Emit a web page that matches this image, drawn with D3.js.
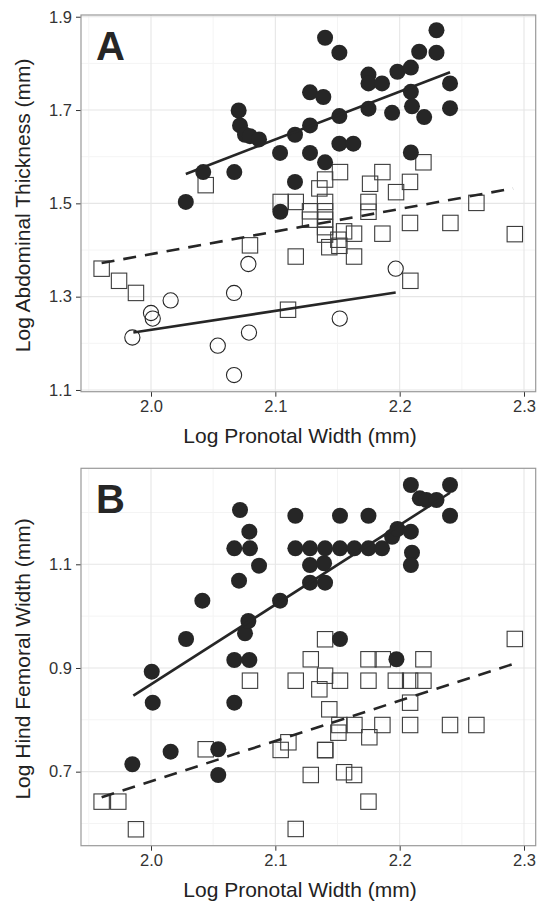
<!DOCTYPE html>
<html>
<head>
<meta charset="utf-8">
<script src="https://cdn.jsdelivr.net/npm/d3@7"></script>
<style>
  body { margin: 0; background: #fff; }
  svg { font-family: "Liberation Sans", Arial, sans-serif; }
</style>
</head>
<body>
<div id="chart"></div>
<script>
// ticks
var xTicks = [2.0, 2.1, 2.2, 2.3];
var xMinor = [1.95, 2.05, 2.15, 2.25];
var aYTicks = [1.1, 1.3, 1.5, 1.7, 1.9];
var aYMinor = [1.2, 1.4, 1.6, 1.8];
var bYTicks = [0.7, 0.9, 1.1];
var bYMinor = [0.6, 0.8, 1.0, 1.2];

// panel A: abdominal thickness
var aFilled = [
  [2.028, 1.503], [2.042, 1.567], [2.067, 1.567], [2.0705, 1.699], [2.0716, 1.667],
  [2.0756, 1.647], [2.0796, 1.644], [2.0869, 1.637], [2.1038, 1.608], [2.104, 1.482],
  [2.1158, 1.647], [2.1158, 1.546], [2.1279, 1.667], [2.1279, 1.738], [2.1279, 1.608],
  [2.1386, 1.728], [2.14, 1.855], [2.14, 1.588], [2.1515, 1.823], [2.1515, 1.628],
  [2.1515, 1.687], [2.1627, 1.628], [2.1749, 1.776], [2.1749, 1.757], [2.1749, 1.703],
  [2.1858, 1.757], [2.1939, 1.694], [2.1982, 1.782], [2.209, 1.791], [2.209, 1.739],
  [2.2099, 1.708], [2.209, 1.609], [2.2157, 1.825], [2.2197, 1.685], [2.2296, 1.871],
  [2.2296, 1.823], [2.2405, 1.757], [2.2405, 1.704]
];
var aSquares = [
  [1.9603, 1.360], [1.9743, 1.334], [1.9879, 1.308], [2.044, 1.539], [2.0796, 1.410],
  [2.1043, 1.503], [2.1102, 1.272], [2.1164, 1.503], [2.1164, 1.386], [2.1279, 1.483],
  [2.1279, 1.465], [2.1354, 1.532], [2.14, 1.551], [2.14, 1.503], [2.14, 1.483],
  [2.14, 1.465], [2.14, 1.449], [2.14, 1.433], [2.1434, 1.406], [2.1507, 1.422],
  [2.1515, 1.409], [2.152, 1.567], [2.1553, 1.440], [2.1633, 1.435], [2.1633, 1.386],
  [2.1749, 1.503], [2.1749, 1.482], [2.1762, 1.542], [2.1861, 1.567], [2.1861, 1.435],
  [2.1971, 1.524], [2.2083, 1.546], [2.2083, 1.458], [2.2086, 1.334], [2.2191, 1.588],
  [2.2408, 1.458], [2.2617, 1.501], [2.2926, 1.434]
];
var aOpen = [
  [1.985, 1.2125], [2.0, 1.265], [2.0014, 1.253], [2.0158, 1.292], [2.0668, 1.308],
  [2.0783, 1.370], [2.0537, 1.195], [2.0788, 1.223], [2.0668, 1.132], [2.1518, 1.253],
  [2.1968, 1.360]
];
var aFilledFit = [[2.028, 1.563], [2.2405, 1.781]];
var aSquareFit = [[1.9603, 1.372], [2.2912, 1.532]];
var aOpenFit = [[1.9858, 1.223], [2.1968, 1.309]];

// panel B: hind femoral width
var bFilled = [
  [1.985, 0.7143], [2.0006, 0.8929], [2.0014, 0.8331], [2.0158, 0.7386], [2.0282, 0.9559],
  [2.0413, 1.0298], [2.0541, 0.7432], [2.0541, 0.6936], [2.067, 0.8331], [2.067, 0.9154],
  [2.067, 1.1309], [2.0708, 1.0684], [2.0716, 1.2047], [2.0756, 0.9669], [2.0783, 0.9906],
  [2.0791, 0.9154], [2.0791, 1.1629], [2.0796, 1.1309], [2.0869, 1.0973], [2.1038, 1.0298],
  [2.1161, 1.1937], [2.1161, 1.1309], [2.1279, 1.1309], [2.1279, 1.0986], [2.1279, 1.0645],
  [2.1392, 1.102], [2.14, 1.1309], [2.14, 1.0645], [2.152, 1.1937], [2.152, 1.1309],
  [2.152, 0.9559], [2.1636, 1.1309], [2.1749, 1.1937], [2.1749, 1.1309], [2.1858, 1.1309],
  [2.1939, 1.1532], [2.1974, 0.9168], [2.1982, 1.1681], [2.209, 1.1629], [2.209, 1.253],
  [2.2099, 1.1224], [2.209, 1.0986], [2.2162, 1.2273], [2.2215, 1.224], [2.2296, 1.224],
  [2.2405, 1.253], [2.2405, 1.1937]
];
var bSquares = [
  [1.9603, 0.6422], [1.9737, 0.6422], [1.9879, 0.5889], [2.044, 0.7432], [2.0796, 0.8755],
  [2.1043, 0.7419], [2.1105, 0.7567], [2.1164, 0.8755], [2.1164, 0.5895], [2.1285, 0.9168],
  [2.1285, 0.6936], [2.1354, 0.8589], [2.14, 0.9554], [2.14, 0.8851], [2.14, 0.7419],
  [2.1402, 0.7415], [2.1434, 0.8203], [2.1507, 0.7752], [2.1515, 0.790], [2.152, 0.8755],
  [2.1553, 0.6989], [2.1633, 0.6936], [2.1636, 0.790], [2.1749, 0.9168], [2.1749, 0.8755],
  [2.1749, 0.6422], [2.1756, 0.7664], [2.1861, 0.790], [2.1864, 0.9168], [2.1969, 0.8755],
  [2.2084, 0.8755], [2.2084, 0.8331], [2.2084, 0.790], [2.2191, 0.9168], [2.2191, 0.8755],
  [2.2405, 0.790], [2.2617, 0.790], [2.2926, 0.956]
];
var bFilledFit = [[1.9858, 0.8466], [2.2405, 1.238]];
var bSquareFit = [[1.9603, 0.6506], [2.2912, 0.9077]];

var W = 538, H = 906;
var svg = d3.select("#chart").append("svg")
  .attr("width", W).attr("height", H);

var ink = "#262626";

function drawPanel(cfg) {
  var x = d3.scaleLinear().domain([1.9437, 2.3094]).range([81, 535.7]);
  var y = d3.scaleLinear().domain(cfg.yDomain).range([cfg.bottom, cfg.top]);
  var g = svg.append("g");

  // grid
  g.selectAll(".xminor").data(xMinor).enter().append("line")
    .attr("x1", d => x(d)).attr("x2", d => x(d))
    .attr("y1", cfg.top).attr("y2", cfg.bottom)
    .attr("stroke", "#f4f4f4").attr("stroke-width", 1);
  g.selectAll(".yminor").data(cfg.yMinor).enter().append("line")
    .attr("x1", 81).attr("x2", 535.7)
    .attr("y1", d => y(d)).attr("y2", d => y(d))
    .attr("stroke", "#f4f4f4").attr("stroke-width", 1);
  g.selectAll(".xmajor").data(xTicks).enter().append("line")
    .attr("x1", d => x(d)).attr("x2", d => x(d))
    .attr("y1", cfg.top).attr("y2", cfg.bottom)
    .attr("stroke", "#e6e6e6").attr("stroke-width", 1.1);
  g.selectAll(".ymajor").data(cfg.yTicks).enter().append("line")
    .attr("x1", 81).attr("x2", 535.7)
    .attr("y1", d => y(d)).attr("y2", d => y(d))
    .attr("stroke", "#e6e6e6").attr("stroke-width", 1.1);

  // axes
  var xAxis = d3.axisBottom(x).tickValues(xTicks).tickFormat(d3.format(".1f"))
    .tickSize(5).tickPadding(4);
  var yAxis = d3.axisLeft(y).tickValues(cfg.yTicks).tickFormat(d3.format(".1f"))
    .tickSize(5).tickPadding(4);
  var gx = g.append("g").attr("transform", "translate(0," + cfg.bottom + ")").call(xAxis);
  var gy = g.append("g").attr("transform", "translate(81,0)").call(yAxis);
  [gx, gy].forEach(function (a) {
    a.select(".domain").remove();
    a.selectAll(".tick line").attr("stroke", "#333").attr("stroke-width", 1);
    a.selectAll(".tick text").attr("fill", "#333")
      .style("font-size", "16.5px").style("font-family", "Liberation Sans, Arial, sans-serif");
  });

  // panel border
  g.append("rect")
    .attr("x", 81).attr("y", cfg.top)
    .attr("width", 535.7 - 81).attr("height", cfg.bottom - cfg.top)
    .attr("fill", "none").attr("stroke", "#999").attr("stroke-width", 1.2);

  // squares
  g.selectAll(".sq").data(cfg.squares).enter().append("rect")
    .attr("x", d => x(d[0]) - 7.7).attr("y", d => y(d[1]) - 7.7)
    .attr("width", 15.4).attr("height", 15.4)
    .attr("fill", "none").attr("stroke", "#3c3c3c").attr("stroke-width", 1.1);

  if (cfg.open) {
    g.selectAll(".oc").data(cfg.open).enter().append("circle")
      .attr("cx", d => x(d[0])).attr("cy", d => y(d[1])).attr("r", 7.6)
      .attr("fill", "none").attr("stroke", ink).attr("stroke-width", 1.1);
  }

  g.selectAll(".fc").data(cfg.filled).enter().append("circle")
    .attr("cx", d => x(d[0])).attr("cy", d => y(d[1])).attr("r", 8)
    .attr("fill", ink);

  var line = d3.line().x(d => x(d[0])).y(d => y(d[1]));
  cfg.fits.forEach(function (f) {
    g.append("path").datum(f.pts).attr("d", line)
      .attr("fill", "none").attr("stroke", ink).attr("stroke-width", 2.6)
      .attr("stroke-dasharray", f.dash ? "13,9" : null);
  });

  // panel letter
  g.append("text").attr("x", 96).attr("y", cfg.top + 45)
    .style("font-size", "40px").style("font-weight", "bold")
    .attr("fill", ink).text(cfg.letter);

  // axis titles
  g.append("text").attr("x", 300).attr("y", cfg.bottom + 51)
    .attr("text-anchor", "middle").style("font-size", "21px").attr("fill", "#222")
    .text("Log Pronotal Width (mm)");
  g.append("text")
    .attr("transform", "translate(30," + ((cfg.top + cfg.bottom) / 2 + 2) + ") rotate(-90)")
    .attr("text-anchor", "middle").style("font-size", "21px").attr("fill", "#222")
    .text(cfg.yTitle);
}

drawPanel({
  letter: "A", top: 15, bottom: 391.7, yDomain: [1.0963, 1.9037],
  yTicks: aYTicks, yMinor: aYMinor,
  filled: aFilled, squares: aSquares, open: aOpen,
  fits: [{pts: aFilledFit}, {pts: aSquareFit, dash: true}, {pts: aOpenFit}],
  yTitle: "Log Abdominal Thickness (mm)"
});

drawPanel({
  letter: "B", top: 468.3, bottom: 845.7, yDomain: [0.5572, 1.2852],
  yTicks: bYTicks, yMinor: bYMinor,
  filled: bFilled, squares: bSquares, open: null,
  fits: [{pts: bFilledFit}, {pts: bSquareFit, dash: true}],
  yTitle: "Log Hind Femoral Width (mm)"
});
</script>
</body>
</html>
